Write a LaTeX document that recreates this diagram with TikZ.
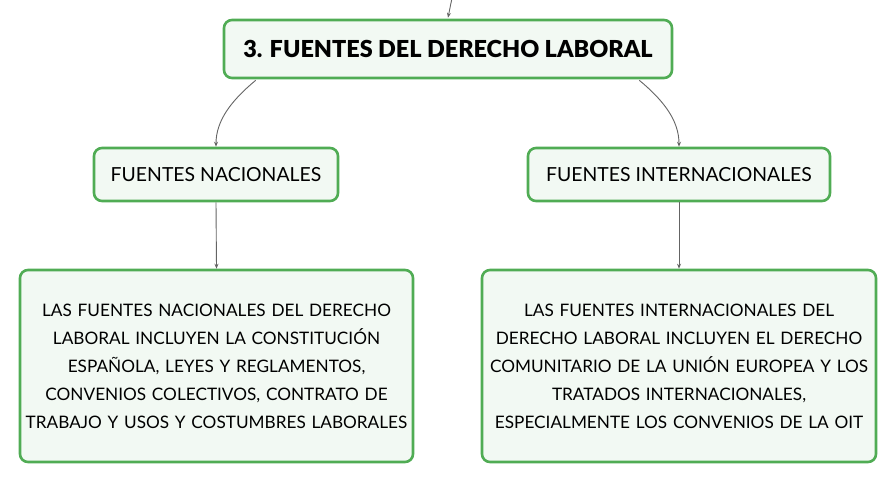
\documentclass[tikz,border=0pt]{standalone}
\usepackage{fontspec}
\setmainfont{Lato}
\newfontfamily\titlefont{Lato Black}
\usetikzlibrary{calc,arrows.meta}
\definecolor{boxgreen}{RGB}{80,172,84}
\definecolor{boxfill}{RGB}{242,249,243}
\definecolor{linkgrey}{RGB}{100,100,100}
\tikzset{
  card/.style={draw=boxgreen, fill=boxfill, line width=2.6pt, rounded corners=8pt, align=center, inner sep=0pt, text=black},
  link/.style={draw=linkgrey, line width=0.9pt, -{Stealth[length=5pt,width=4pt]}}
}
\begin{document}
\begin{tikzpicture}[x=1pt,y=-1pt]
\useasboundingbox (0,0) rectangle (896,483);
\node[card, minimum width=448pt, minimum height=58pt, font=\fontsize{23.4}{27}\selectfont\titlefont] (title) at (448,49) {3. FUENTES DEL DERECHO LABORAL};
\node[card, minimum width=244pt, minimum height=53pt, font=\fontsize{19.4}{22}\selectfont] (nac) at (216,174.5) {FUENTES NACIONALES};
\node[card, minimum width=302pt, minimum height=53pt, font=\fontsize{19.4}{22}\selectfont] (int) at (679,174.5) {FUENTES INTERNACIONALES};
\node[card, minimum width=393pt, minimum height=192pt, text width=392pt, font=\fontsize{17.2}{28}\selectfont] (nacd) at (216.5,366) {LAS FUENTES NACIONALES DEL DERECHO\\LABORAL INCLUYEN LA CONSTITUCIÓN\\ESPAÑOLA, LEYES Y REGLAMENTOS,\\CONVENIOS COLECTIVOS, CONTRATO DE\\TRABAJO Y USOS Y COSTUMBRES LABORALES};
\node[card, minimum width=394pt, minimum height=192pt, text width=392pt, font=\fontsize{17.2}{28}\selectfont] (intd) at (679,366) {LAS FUENTES INTERNACIONALES DEL\\DERECHO LABORAL INCLUYEN EL DERECHO\\COMUNITARIO DE LA UNIÓN EUROPEA Y LOS\\TRATADOS INTERNACIONALES,\\ESPECIALMENTE LOS CONVENIOS DE LA OIT};
\coordinate (topin) at (452,-2);
\draw[link] (topin) -- ($(title.north)+(0,-1)$);
\coordinate (ls) at ($(title.south west)+(33,1)$);
\coordinate (rs) at ($(title.south east)+(-34,1)$);
\draw[link] (ls) .. controls (232,100) and (216,120) .. (nac.north);
\draw[link] (rs) .. controls (663,100) and (679,120) .. (int.north);
\draw[link] (nac.south) -- (nacd.north);
\draw[link] (int.south) -- (intd.north);
\end{tikzpicture}
\end{document}
